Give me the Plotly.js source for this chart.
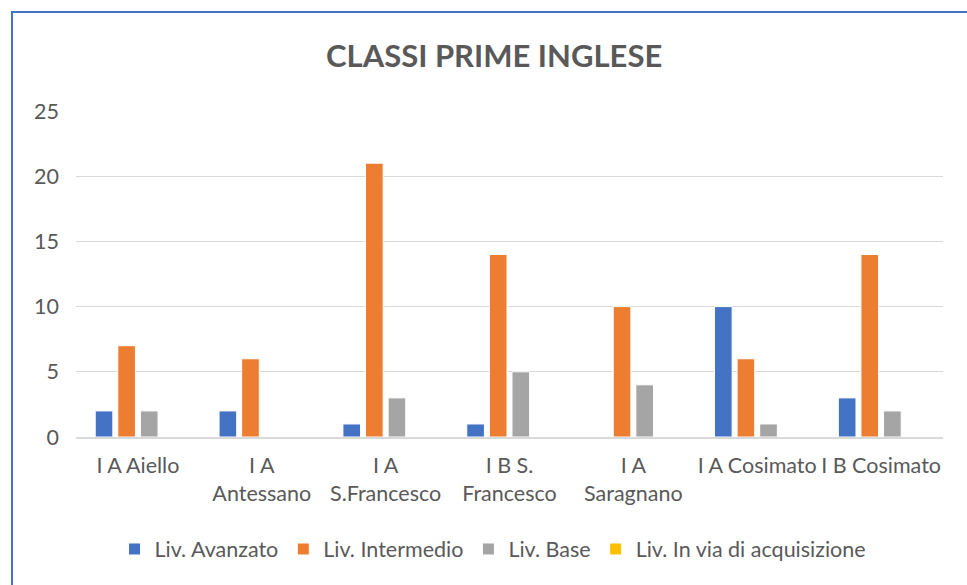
<!DOCTYPE html>
<html>
<head>
<meta charset="utf-8">
<script src="https://cdn.plot.ly/plotly-3.0.1.min.js"></script>
<style>
  html, body { margin: 0; padding: 0; background: #fff; }
  #wrap { position: relative; width: 967px; height: 585px; overflow: hidden; }
  #chart { position: absolute; left: 0; top: 0; width: 967px; height: 585px; }
  #frame { position: absolute; left: 11px; top: 11px; width: 980px; height: 600px;
           border-top: 2px solid #4472C4; border-left: 2px solid #4472C4; pointer-events: none; }
</style>
</head>
<body>
<div id="wrap">
  <div id="chart"></div>
  <div id="frame"></div>
</div>
<script>
const categories = [
  "I A Aiello",
  "I A<br>Antessano",
  "I A<br>S.Francesco",
  "I B S.<br>Francesco",
  "I A<br>Saragnano",
  "I A Cosimato",
  "I B Cosimato"
];
const seriesNames = ["Liv. Avanzato", "Liv. Intermedio", "Liv. Base", "Liv. In via di acquisizione"];
const avanzato   = [2, 2, 1, 1, 0, 10, 3];
const intermedio = [7, 6, 21, 14, 10, 6, 14];
const base       = [2, 0, 3, 5, 4, 1, 2];
const inVia      = [0, 0, 0, 0, 0, 0, 0];
const colors = ["#4472C4", "#ED7D31", "#A5A5A5", "#FFC000"];
const yTicks = [0, 5, 10, 15, 20, 25];

const seriesValues = [avanzato, intermedio, base, inVia];
const FONT = "Lato, 'Liberation Sans', sans-serif";
const FS = 21.5;

const traces = seriesValues.map((vals, i) => ({
  type: "bar",
  name: seriesNames[i],
  x: categories,
  y: vals,
  marker: { color: colors[i], line: { color: "#ffffff", width: 1 } },
  hoverinfo: "x+y+name"
}));

const layout = {
  width: 967,
  height: 585,
  paper_bgcolor: "#ffffff",
  plot_bgcolor: "#ffffff",
  margin: { l: 76, r: 24, t: 111, b: 148 },
  barmode: "group",
  bargap: 0.27,
  bargroupgap: 0.22,
  font: { family: FONT, color: "#595959", size: FS },
  title: {
    text: "<b>CLASSI PRIME INGLESE</b>",
    font: { family: FONT, size: 31, color: "#595959" },
    x: 0.511, xref: "container", xanchor: "center",
    y: 1 - 56 / 585, yref: "container", yanchor: "middle"
  },
  xaxis: {
    type: "category",
    showgrid: false,
    showline: true,
    linecolor: "#d9d9d9",
    linewidth: 1.5,
    ticks: "",
    ticklabelstandoff: 9,
    tickfont: { family: FONT, size: FS, color: "#595959" },
    fixedrange: true
  },
  yaxis: {
    range: [0, 25],
    tickvals: yTicks,
    ticktext: yTicks.map(String),
    showgrid: true,
    gridcolor: "#d9d9d9",
    gridwidth: 1,
    zeroline: false,
    showline: false,
    ticks: "",
    ticklabelstandoff: 16,
    tickfont: { family: FONT, size: FS, color: "#595959" },
    fixedrange: true
  },
  showlegend: true,
  legend: {
    orientation: "h",
    x: 493 / 967, xref: "container", xanchor: "center",
    y: 1 - 549 / 585, yref: "container", yanchor: "middle",
    font: { family: FONT, size: FS, color: "#595959" },
    traceorder: "normal",
    itemclick: false,
    itemdoubleclick: false
  }
};

Plotly.newPlot("chart", traces, layout, { displayModeBar: false, staticPlot: true });
</script>
</body>
</html>
